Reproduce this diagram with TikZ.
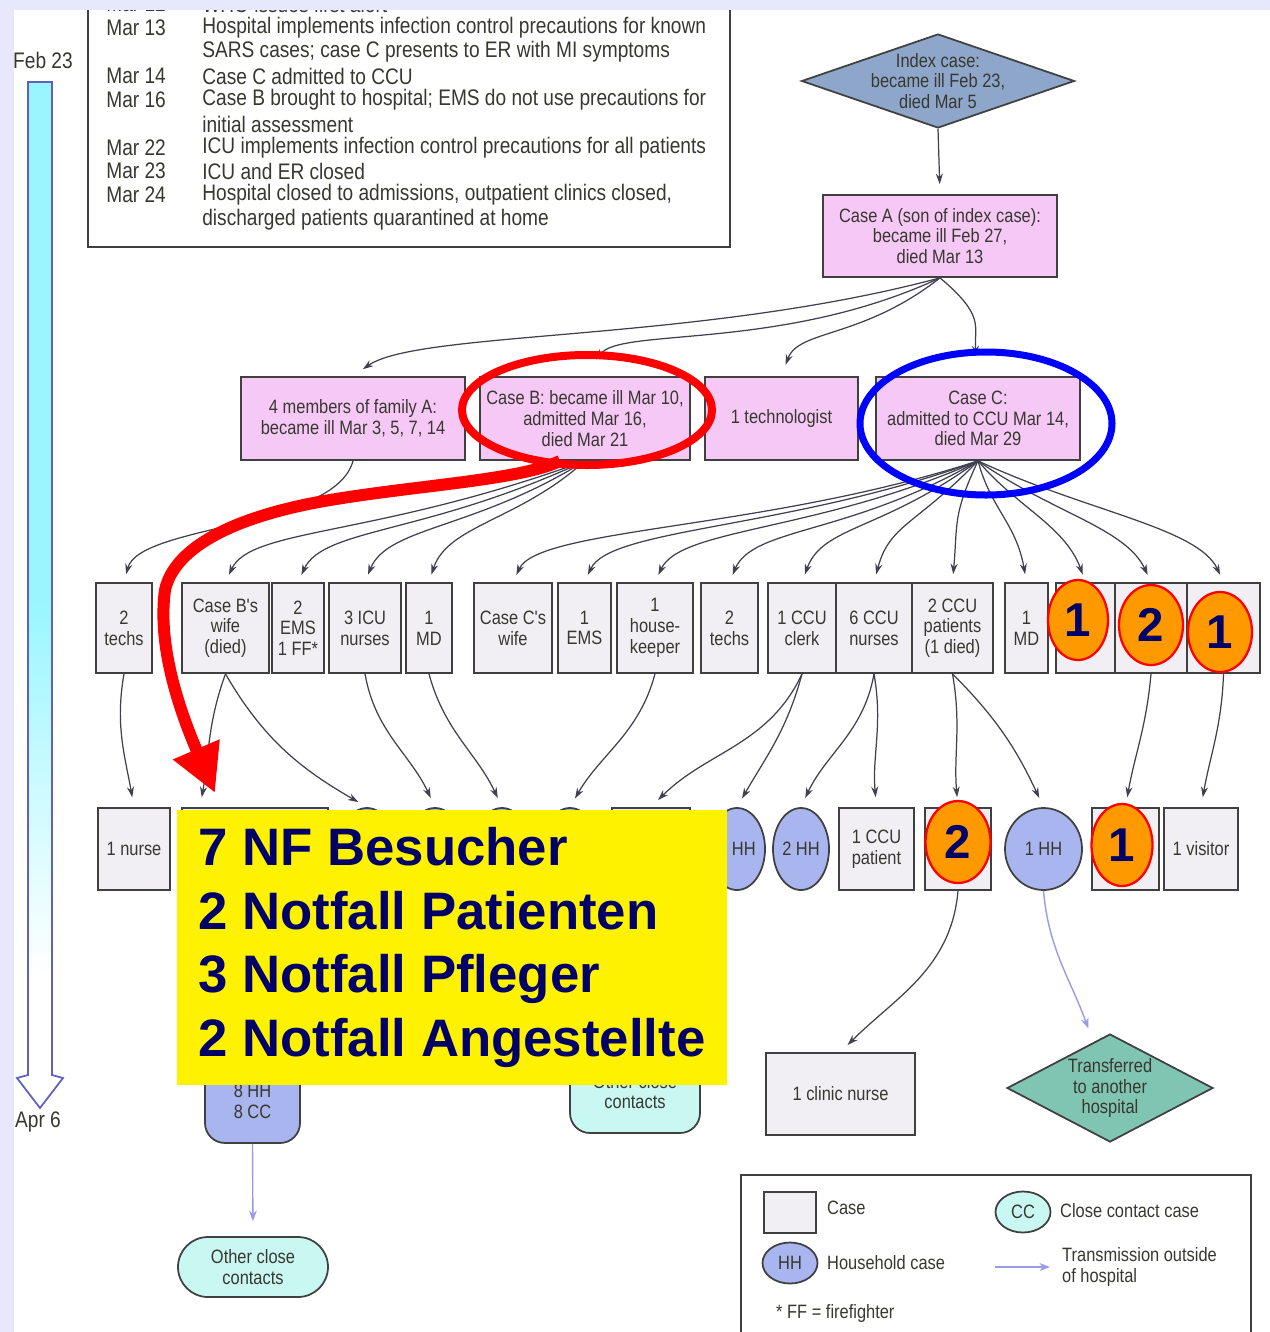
\documentclass[tikz,border=0pt]{standalone}
\usepackage{fontspec}
\setmainfont{Liberation Sans}
\newfontfamily\narrowfont[FakeStretch=0.85]{Liberation Sans}
\usetikzlibrary{shapes.geometric,arrows.meta,positioning,calc}

\definecolor{bglav}{HTML}{E8E8FC}
\definecolor{pinkfill}{HTML}{F6C8F6}
\definecolor{casefill}{HTML}{F1EEF4}
\definecolor{hhfill}{HTML}{A9B5EE}
\definecolor{ccfill}{HTML}{C9F7F2}
\definecolor{indexfill}{HTML}{8EA6C9}
\definecolor{transfill}{HTML}{80C4B2}
\definecolor{orangefill}{HTML}{FF9900}
\definecolor{navy}{HTML}{000066}
\definecolor{edgecol}{HTML}{404040}
\definecolor{linecol}{HTML}{404050}
\definecolor{outcol}{HTML}{9A9AE8}
\definecolor{txtcol}{HTML}{383830}
\definecolor{cyanfill}{HTML}{99F6FF}
\definecolor{timecol}{HTML}{6060C0}

\tikzset{
  boxtext/.style={font=\narrowfont\fontsize{11}{11.8}\selectfont, text=txtcol, align=center},
  casebox/.style={boxtext, rectangle, draw=edgecol, line width=1pt, fill=casefill, inner sep=1pt, minimum height=1.8cm},
  pinkbox/.style={casebox, fill=pinkfill, minimum height=1.66cm},
  hhoval/.style={boxtext, ellipse, draw=edgecol, line width=1pt, fill=hhfill, inner sep=0pt, minimum height=1.64cm},
  ccbox/.style={boxtext, rectangle, rounded corners=0.4cm, draw=edgecol, line width=1pt, fill=ccfill, inner sep=1pt},
  flag/.style={diamond, draw=edgecol, line width=1pt, inner sep=0pt},
  tally/.style={ellipse, draw=red, line width=1.3pt, fill=orangefill, text=navy, font=\bfseries\fontsize{27}{27}\selectfont, inner sep=0pt, minimum width=1.24cm, minimum height=1.6cm},
  conn/.style={draw=linecol, line width=0.7pt, -{Stealth[length=6pt,width=4pt]}, shorten >=0.16cm},
  outconn/.style={draw=outcol, line width=0.8pt, -{Stealth[length=6pt,width=4.5pt]}, shorten >=0.2cm},
  logtext/.style={anchor=west, font=\narrowfont\fontsize{12.8}{13.6}\selectfont, text=txtcol, inner sep=0pt},
}

\begin{document}
\begin{tikzpicture}
\useasboundingbox (0,0) rectangle (25.4,-26.64);
\fill[bglav] (0,0) rectangle (25.4,-26.64);
\fill[white] (0.28,-0.2) rectangle (25.4,-26.64);

% time line
\node[logtext, anchor=center] (startlbl) at (0.86,-1.2) {Feb 23};
\fill[cyanfill] (0.56,-1.64) rectangle (1.04,-12);
\shade[top color=cyanfill, bottom color=white] (0.56,-12) rectangle (1.04,-19.5);
\draw[timecol, line width=1pt] (0.56,-1.64) -- (1.04,-1.64) -- (1.04,-21.5) -- (1.26,-21.56)
  -- (0.8,-22.16) -- (0.34,-21.56) -- (0.56,-21.5) -- cycle;
\node[logtext, anchor=center] (endlbl) at (0.76,-22.44) {Apr 6};

% event log
\draw[edgecol, line width=1pt, fill=white] (1.76,0.5) rectangle (14.6,-4.94);
\foreach \dt/\txt/\yy [count=\i] in {
  {Mar 12}/{WHO issues first alert}/0.08,
  {Mar 13}/{Hospital implements infection control precautions for known}/0.56,
  {}/{SARS cases; case C presents to ER with MI symptoms}/1.04,
  {Mar 14}/{Case C admitted to CCU}/1.52,
  {Mar 16}/{Case B brought to hospital; EMS do not use precautions for}/2.0,
  {}/{initial assessment}/2.48,
  {Mar 22}/{ICU implements infection control precautions for all patients}/2.96,
  {Mar 23}/{ICU and ER closed}/3.42,
  {Mar 24}/{Hospital closed to admissions, outpatient clinics closed,}/3.9,
  {}/{discharged patients quarantined at home}/4.4}
{
  \node[logtext] (date\i) at (2.12,-\yy) {\dt};
  \node[logtext] (event\i) at (4.04,-\yy) {\txt};
}

% index case and case A
\node[flag, fill=indexfill, minimum width=5.46cm, minimum height=1.88cm] (index) at (18.76,-1.62) {};
\node[boxtext] (indexlbl) at (index) {Index case:\\became ill Feb 23,\\died Mar 5};
\node[pinkbox, minimum width=4.68cm, minimum height=1.64cm] (caseA) at (18.8,-4.72) {Case A (son of index case):\\became ill Feb 27,\\died Mar 13};

% second generation
\node[pinkbox, minimum width=4.48cm] (fam) at (7.06,-8.37) {4 members of family A:\\became ill Mar 3, 5, 7, 14};
\node[pinkbox, minimum width=4.2cm] (caseB) at (11.7,-8.37) {Case B: became ill Mar 10,\\admitted Mar 16,\\died Mar 21};
\node[pinkbox, minimum width=3.06cm] (tech) at (15.63,-8.37) {1 technologist};
\node[pinkbox, minimum width=4.08cm] (caseC) at (19.56,-8.37) {Case C:\\admitted to CCU Mar 14,\\died Mar 29};

% third generation
\node[casebox, minimum width=1.12cm] (techsB) at (2.48,-12.56) {2\\techs};
\node[casebox, minimum width=1.74cm] (wifeB) at (4.51,-12.56) {Case B's\\wife\\(died)};
\node[casebox, minimum width=1.04cm] (emsB) at (5.96,-12.56) {2\\EMS\\1 FF*};
\node[casebox, minimum width=1.44cm] (icuB) at (7.3,-12.56) {3 ICU\\nurses};
\node[casebox, minimum width=0.92cm] (mdB) at (8.58,-12.56) {1\\MD};
\node[casebox, minimum width=1.56cm] (wifeC) at (10.26,-12.56) {Case C's\\wife};
\node[casebox, minimum width=1.06cm] (emsC) at (11.69,-12.56) {1\\EMS};
\node[casebox, minimum width=1.52cm] (keeperC) at (13.1,-12.56) {1\\house-\\keeper};
\node[casebox, minimum width=1.14cm] (techsC) at (14.59,-12.56) {2\\techs};
\node[casebox, minimum width=1.36cm] (clerkC) at (16.04,-12.56) {1 CCU\\clerk};
\node[casebox, minimum width=1.52cm] (nursesC) at (17.48,-12.56) {6 CCU\\nurses};
\node[casebox, minimum width=1.62cm] (patientsC) at (19.05,-12.56) {2 CCU\\patients\\(1 died)};
\node[casebox, minimum width=0.86cm] (mdC) at (20.53,-12.56) {1\\MD};
\node[casebox, minimum width=1.18cm] (hidA) at (21.71,-12.56) {};
\node[casebox, minimum width=1.44cm] (hidB) at (23.02,-12.56) {};
\node[casebox, minimum width=1.46cm] (hidC) at (24.47,-12.56) {};

% fourth generation
\node[casebox, minimum width=1.44cm, minimum height=1.64cm] (nurseB) at (2.68,-16.98) {1 nurse};
\node[casebox, minimum width=2.92cm, minimum height=1.64cm] (hidD) at (5.1,-16.98) {};
\node[hhoval, minimum width=1.12cm] (hidE) at (7.34,-16.98) {};
\node[hhoval, minimum width=1.12cm] (hidF) at (8.7,-16.98) {};
\node[hhoval, minimum width=1.12cm] (hidG) at (10.04,-16.98) {};
\node[hhoval, minimum width=1.12cm] (hidH) at (11.4,-16.98) {};
\node[casebox, minimum width=1.56cm, minimum height=1.64cm] (hidI) at (13.02,-16.98) {};
\node[hhoval, minimum width=1.12cm] (hhA) at (14.74,-16.98) {1 HH};
\node[hhoval, minimum width=1.12cm] (hhB) at (16.02,-16.98) {2 HH};
\node[casebox, minimum width=1.5cm, minimum height=1.64cm] (patientD) at (17.53,-16.98) {1 CCU\\patient};
\node[casebox, minimum width=1.32cm, minimum height=1.64cm] (hidJ) at (19.16,-16.98) {};
\node[hhoval, minimum width=1.54cm] (hhC) at (20.87,-16.98) {1 HH};
\node[casebox, minimum width=1.34cm, minimum height=1.64cm] (hidK) at (22.51,-16.98) {};
\node[casebox, minimum width=1.48cm, minimum height=1.64cm] (visitorD) at (24.02,-16.98) {1 visitor};

% fifth generation
\node[casebox, minimum width=2.98cm, minimum height=1.64cm] (clinic) at (16.81,-21.88) {1 clinic nurse};
\node[flag, fill=transfill, minimum width=4.12cm, minimum height=2.16cm] (transfer) at (22.2,-21.76) {};
\node[boxtext] (transferlbl) at (transfer) {Transferred\\to another\\hospital};
\node[ccbox, fill=hhfill, minimum width=1.9cm, minimum height=1.66cm] (hhcc) at (5.05,-22.03) {8 HH\\8 CC};
\node[ccbox, minimum width=2.6cm, minimum height=1.66cm] (occA) at (12.7,-21.83) {Other close\\contacts};
\node[ccbox, rounded corners=0.6cm, minimum width=3cm, minimum height=1.2cm] (occB) at (5.06,-25.34) {Other close\\contacts};

% connectors
\draw[conn, shorten >=0.2cm] (index.south) -- (caseA.north);
\draw[conn, shorten >=0.24cm] (caseA.south) to[out=195, in=35, out distance=5cm, in distance=1.6cm] (fam.north);
\draw[conn, shorten >=0.4cm] (caseA.south) to[out=205, in=55, out distance=3.5cm, in distance=1.2cm] (caseB.north);
\draw[conn, shorten >=0.24cm] (caseA.south) to[out=218, in=70, out distance=2cm, in distance=1cm] (tech.north);
\draw[conn, shorten >=0.4cm] (caseA.south) to[out=-40, in=95, out distance=1.2cm, in distance=1cm] (caseC.north);

\draw[conn] (fam.south) to[out=-105, in=75, out distance=1.4cm, in distance=1.2cm] (techsB.north);
\foreach \dest/\a/\b/\d in {wifeB/200/65/4.5, emsB/205/65/3.5, icuB/212/68/2.6, mdB/222/72/1.8}
  \draw[conn] (caseB.south) to[out=\a, in=\b, out distance=\d cm, in distance=1.2cm] (\dest.north);
\foreach \dest/\a/\b/\d in {wifeC/198/65/4.5, emsC/200/65/4, keeperC/204/65/3.5, techsC/210/67/3,
    clerkC/216/70/2.4, nursesC/226/75/1.8, patientsC/245/85/1.2, mdC/-75/100/1,
    hidA/-50/110/1.2, hidB/-35/115/1.8, hidC/-25/115/2.4}
  \draw[conn] (caseC.south) to[out=\a, in=\b, out distance=\d cm, in distance=1.2cm] (\dest.north);

\draw[conn, shorten >=0.2cm] (techsB.south) to[out=-100, in=100] (nurseB.north);
\draw[conn, shorten >=0.2cm] (wifeB.south) to[out=-110, in=80] ([xshift=-1.1cm]hidD.north);
\draw[conn, shorten >=0.2cm] (wifeB.south) to[out=-60, in=150] (hidE.north);
\draw[conn, shorten >=0.2cm] (icuB.south) to[out=-80, in=115] (hidF.north);
\draw[conn, shorten >=0.2cm] (mdB.south) to[out=-75, in=115] (hidG.north);
\draw[conn, shorten >=0.2cm] (keeperC.south) to[out=-105, in=60] (hidH.north);
\draw[conn, shorten >=0.2cm] (clerkC.south) to[out=-115, in=45] (hidI.north);
\draw[conn, shorten >=0.2cm] (clerkC.south) to[out=-105, in=60] (hhA.north);
\draw[conn, shorten >=0.2cm] (nursesC.south) to[out=-100, in=65] (hhB.north);
\draw[conn, shorten >=0.2cm] (nursesC.south) to[out=-80, in=95] (patientD.north);
\draw[conn, shorten >=0.2cm] (patientsC.south) to[out=-80, in=95] (hidJ.north);
\draw[conn, shorten >=0.2cm] (patientsC.south) to[out=-45, in=115] (hhC.north);
\draw[conn, shorten >=0.2cm] (hidB.south) to[out=-95, in=80] (hidK.north);
\draw[conn, shorten >=0.2cm] (hidC.south) to[out=-92, in=80] (visitorD.north);

\draw[conn, shorten >=0.2cm] (hidJ.south) to[out=-95, in=45] (clinic.north);
\draw[outconn, shorten >=0.1cm] (hhC.south) to[out=-85, in=110] ([xshift=-0.4cm]transfer.north);
\draw[outconn, shorten >=0.3cm] (hhcc.south) -- (occB.north);

% legend
\draw[edgecol, line width=1pt] (14.82,-27) -- (14.82,-23.5) -- (25.02,-23.5) -- (25.02,-27);
\node[casebox, minimum width=1.04cm, minimum height=0.82cm] (keyCase) at (15.8,-24.25) {};
\node[boxtext, anchor=west] (keyCaseLbl) at (16.42,-24.16) {Case};
\node[hhoval, minimum width=1.1cm, minimum height=0.82cm] (keyHH) at (15.8,-25.26) {HH};
\node[boxtext, anchor=west] (keyHHLbl) at (16.42,-25.26) {Household case};
\node[boxtext, anchor=west] (keyFF) at (15.4,-26.26) {* FF = firefighter};
\node[hhoval, fill=ccfill, minimum width=1.1cm, minimum height=0.82cm] (keyCC) at (20.46,-24.24) {CC};
\node[boxtext, anchor=west] (keyCCLbl) at (21.08,-24.22) {Close contact case};
\coordinate (keyArrA) at (19.9,-25.34);
\coordinate (keyArrB) at (21.0,-25.34);
\draw[outconn, shorten >=0pt] (keyArrA) -- (keyArrB);
\node[boxtext, anchor=west, align=left] (keyOutLbl) at (21.12,-25.34) {Transmission outside\\of hospital};

% highlighted summary
\node[fill=yellow, minimum width=11cm, minimum height=5.5cm, inner sep=0pt, align=left, text=navy,
  font=\bfseries\fontsize{30}{36.3}\selectfont] (note) at (9.04,-18.95)
  {\rule{0pt}{0.2cm}7 NF Besucher\\2 Notfall Patienten\\3 Notfall Pfleger\\2 Notfall Angestellte};

% marks
\draw[red, line width=0.16cm] (11.74,-8.2) ellipse [x radius=2.5cm, y radius=1.1cm];
\draw[blue, line width=0.14cm] (19.72,-8.47) ellipse [x radius=2.52cm, y radius=1.43cm];
\coordinate (redstart) at (11.2,-9.22);
\coordinate (redtip) at (4.3,-15.86);
\draw[red, line width=0.24cm, -{Triangle[length=0.95cm,width=0.95cm]}] (redstart)
  .. controls (10.4,-9.6) and (8.4,-9.7) .. (6.6,-10.0)
  .. controls (4.8,-10.3) and (3.5,-10.9) .. (3.3,-11.8)
  .. controls (3.16,-12.8) and (3.5,-14.0) .. (redtip);

\node[tally, minimum width=1.2cm] (tallyA) at (21.56,-12.4) {1};
\node[tally, minimum width=1.28cm] (tallyB) at (23.02,-12.5) {2};
\node[tally, minimum width=1.28cm] (tallyC) at (24.4,-12.64) {1};
\node[tally, minimum width=1.3cm, minimum height=1.64cm] (tallyD) at (19.16,-16.84) {2};
\node[tally, minimum width=1.22cm, minimum height=1.64cm] (tallyE) at (22.44,-16.9) {1};

\fill[bglav] (0,0) rectangle (25.4,-0.2);
\end{tikzpicture}
\end{document}
